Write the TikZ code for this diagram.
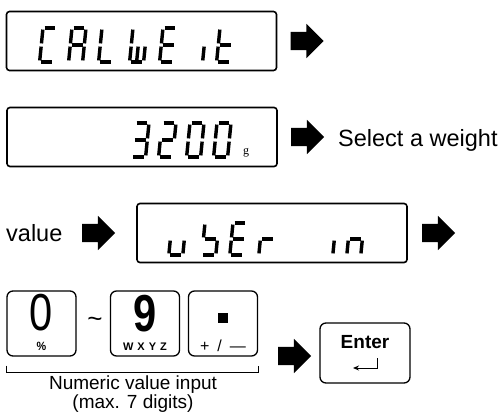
\documentclass[tikz,border=0pt]{standalone}
\usepackage{fontspec}
\setmainfont{Liberation Sans}
\newfontfamily\unitfont{Liberation Serif}
\usetikzlibrary{positioning,arrows.meta,shapes.arrows,calc}

% one LCD character: top-left x, top-left y, height, lit segments
\newcommand{\lcdchar}[4]{%
  \begin{scope}[shift={(#1,#2)}, xslant=0.1]
    \coordinate (a1) at (1.6,0);        \coordinate (a2) at (12.4,0);
    \coordinate (b1) at (14,1.6);       \coordinate (b2) at (14,#3/2-1.6);
    \coordinate (c1) at (14,#3/2+1.6);  \coordinate (c2) at (14,#3-1.6);
    \coordinate (d1) at (1.6,#3);       \coordinate (d2) at (12.4,#3);
    \coordinate (e1) at (0,#3/2+1.6);   \coordinate (e2) at (0,#3-1.6);
    \coordinate (f1) at (0,1.6);        \coordinate (f2) at (0,#3/2-1.6);
    \coordinate (g1) at (1.6,#3/2);     \coordinate (g2) at (12.4,#3/2);
    \coordinate (m1) at (7,#3/2+1.6);   \coordinate (m2) at (7,#3-1.6);
    \foreach \s in {#4} \draw[seg] (\s1) -- (\s2);
  \end{scope}}

\begin{document}
\begin{tikzpicture}[
  x=1pt, y=-1pt,
  lcdbox/.style={draw, line width=1.6pt, rounded corners=3pt, minimum width=270pt, minimum height=59pt, inner sep=0pt},
  keybox/.style={draw, line width=1.3pt, rounded corners=6pt, minimum width=69pt, minimum height=65pt, inner sep=0pt},
  seg/.style={line width=3.4pt, line cap=butt},
  bigarrow/.style={single arrow, fill=black, inner xsep=0pt, inner ysep=9pt, single arrow head extend=8pt, minimum height=33pt, minimum width=34pt},
  txt/.style={font=\fontsize{23.5}{28}\selectfont, inner sep=0pt},
  keydigit/.style={font=\fontsize{52}{52}\selectfont, xscale=0.8, inner sep=0pt},
  keysub/.style={font=\fontsize{11}{11}\selectfont\bfseries, inner sep=0pt},
  bracket/.style={line width=0.9pt}
]
  \useasboundingbox (0,0) rectangle (503,413);

  % displays
  \node[lcdbox] (disp1) at (141.5,41) {};
  \node[lcdbox] (disp2) at (142,137) {};
  \node[lcdbox] (disp3) at (272,233) {};

  % CALWEit
  \lcdchar{43}{28}{34}{a,f,e,d}
  \lcdchar{72}{28}{34}{a,b,c,e,f,g}
  \lcdchar{102}{28}{34}{f,e,d}
  \lcdchar{133}{28}{34}{f,e,d,c,m}
  \lcdchar{163}{28}{34}{a,f,g,e,d}
  \lcdchar{192}{28}{34}{c}
  \lcdchar{220}{28}{34}{f,e,g,d}

  % 3200 g
  \lcdchar{135}{123}{34}{a,b,g,c,d}
  \lcdchar{162}{123}{34}{a,b,g,e,d}
  \lcdchar{190}{123}{34}{a,b,c,d,e,f}
  \lcdchar{217}{123}{34}{a,b,c,d,e,f}
  \node[font=\unitfont\fontsize{12}{12}\selectfont, inner sep=0pt] (unit) at (246,153) {g};

  % uSEr in
  \lcdchar{172}{223}{32}{e,d,c}
  \lcdchar{205}{223}{32}{f,g,c,d}
  \lcdchar{233}{223}{32}{a,f,g,e,d}
  \lcdchar{262}{223}{32}{g,e}
  \lcdchar{336}{223}{32}{e}
  \lcdchar{350}{223}{32}{g,e,c}

  % flow arrows and texts
  \node[bigarrow, right=13pt of disp1] (arr1) {};
  \node[bigarrow, right=13pt of disp2] (arr2) {};
  \node[txt, anchor=west] (sel) at (338,140) {Select a weight};
  \node[txt, anchor=west] (val) at (6,233) {value};
  \node[bigarrow] (arr3) at (94,233) {};
  \node[bigarrow, right=14pt of disp3] (arr4) {};

  % keys
  \node[keybox] (key0) at (41.5,323.5) {};
  \node[keybox] (key9) at (145,323.5) {};
  \node[keybox] (keydot) at (223,323.5) {};
  \node[keydigit] (dig0) at ([yshift=10.5pt]key0.center) {0};
  \node[keydigit, font=\fontsize{52}{52}\selectfont\bfseries] (dig9) at ([yshift=10pt]key9.center) {9};
  \node[fill=black, minimum size=10pt, inner sep=0pt] (dot) at ([yshift=5.5pt]keydot.center) {};
  \node[keysub, font=\fontsize{12}{12}\selectfont\bfseries, xscale=0.9] (pct) at ([yshift=-23pt]key0.center) {\%};
  \node[keysub] (wxyz) at ([yshift=-23pt]key9.center) {W\hspace{4pt}X\hspace{4pt}Y\hspace{4pt}Z};
  \node[keysub, font=\fontsize{16}{16}\selectfont] (sign) at ([yshift=-22pt]keydot.center) {+\hspace{8pt}/\hspace{8pt}—};
  \node[font=\fontsize{26}{26}\selectfont, inner sep=0pt] (tilde) at (95,322) {\char`\~};

  \node[bigarrow] (arr5) at (290,356) {};
  \node[keybox, minimum width=90pt, minimum height=60pt] (enter) at (365,353) {};
  \node[font=\fontsize{19}{19}\selectfont\bfseries, inner sep=0pt] (entxt) at ([yshift=11pt]enter.center) {Enter};
  \draw[line width=1pt, -{Stealth[length=6pt, width=5pt]}] ($(enter.center)+(12,5)$) |- ($(enter.center)+(-12,15)$);

  % bracket under the number keys
  \draw[bracket] ([yshift=-9pt]key0.south west) -- ([yshift=-16pt]key0.south west)
    -- ([yshift=-16pt]keydot.south east) -- ([yshift=-9pt]keydot.south east);
  \node[font=\fontsize{19}{18.5}\selectfont, align=center, inner sep=0pt] (note) at (133,394)
    {Numeric value input\\(max. 7 digits)};
\end{tikzpicture}
\end{document}
